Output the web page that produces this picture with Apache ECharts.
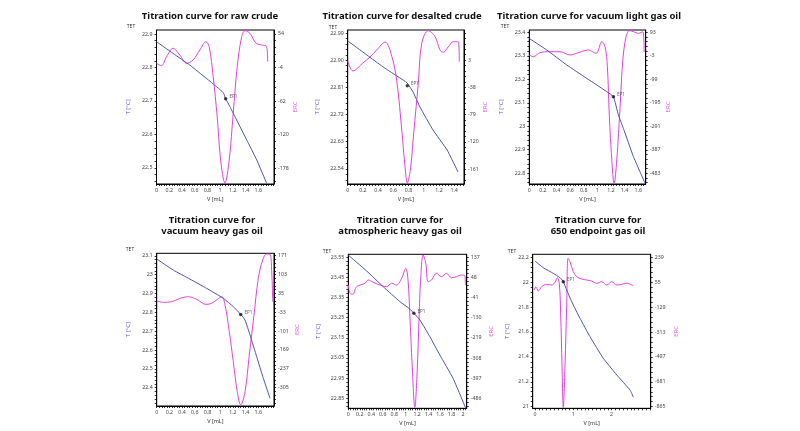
<!DOCTYPE html>
<html><head><meta charset="utf-8">
<script src="https://cdn.jsdelivr.net/npm/echarts@6/dist/echarts.min.js"></script>
<style>html,body{margin:0;background:#fff}#c{width:800px;height:431px}</style>
</head><body><div id="c"></div><script>
// ---------- DATA ----------
const titles = [
  'Titration curve for raw crude',
  'Titration curve for desalted crude',
  'Titration curve for vacuum light gas oil',
  'Titration curve for\nvacuum heavy gas oil',
  'Titration curve for\natmospheric heavy gas oil',
  'Titration curve for\n650 endpoint gas oil'
];
// volume tick labels [mL]
const volLabels1 = [0,0.2,0.4,0.6,0.8,1,1.2,1.4,1.6];
const volLabels2 = [0,0.2,0.4,0.6,0.8,1,1.2,1.4];
const volLabels3 = [0,0.2,0.4,0.6,0.8,1,1.2,1.4,1.6];
const volLabels4 = [0,0.2,0.4,0.6,0.8,1,1.2,1.4,1.6];
const volLabels5 = [0,0.2,0.4,0.6,0.8,1,1.2,1.4,1.6,1.8,2];
const volLabels6 = [0,1,2];
// temperature tick labels [°C]
const tempLabels1 = [22.5,22.6,22.7,22.8,22.9];
const tempLabels2 = [22.54,22.63,22.72,22.81,22.90,22.99];
const tempLabels3 = [22.8,22.9,23,23.1,23.2,23.3,23.4];
const tempLabels4 = [22.4,22.5,22.6,22.7,22.8,22.9,23,23.1];
const tempLabels5 = [22.85,22.95,23.05,23.15,23.25,23.35,23.45,23.55];
const tempLabels6 = [21,21.2,21.4,21.6,21.8,22,22.2];
// ERC tick labels
const ercLabels1 = [-178,-120,-62,-4,54];
const ercLabels2 = [-161,-120,-79,-38,3];
const ercLabels3 = [-483,-387,-291,-195,-99,-3,93];
const ercLabels4 = [-305,-237,-169,-101,-33,35,103,171];
const ercLabels5 = [-486,-397,-308,-219,-130,-41,48,137];
const ercLabels6 = [-865,-681,-497,-313,-129,55,239];

// temperature curves [V, T]
const rawCrudeTemp = [[0,22.877],[0.261,22.842],[0.524,22.807],[0.781,22.768],[0.954,22.741],[1.049,22.725],[1.087,22.707],[1.154,22.683],[1.26,22.643],[1.417,22.584],[1.575,22.524],[1.732,22.454]];
const desaltedTemp = [[0,22.964],[0.254,22.917],[0.464,22.878],[0.688,22.841],[0.78,22.825],[0.859,22.795],[0.951,22.745],[1.122,22.669],[1.307,22.603],[1.451,22.53]];
const vlgoTemp = [[0,23.374],[0.256,23.325],[0.55,23.261],[0.844,23.204],[0.991,23.176],[1.138,23.147],[1.235,23.126],[1.309,23.048],[1.382,22.991],[1.529,22.871],[1.701,22.757]];
const vhgoTemp = [[0,23.083],[0.261,23.024],[0.524,22.976],[0.787,22.927],[1.05,22.874],[1.206,22.83],[1.323,22.789],[1.391,22.759],[1.469,22.68],[1.575,22.564],[1.679,22.45],[1.784,22.344]];
const ahgoTemp = [[0,23.561],[0.32,23.482],[0.609,23.404],[0.899,23.33],[1.073,23.293],[1.247,23.239],[1.421,23.156],[1.595,23.065],[1.826,22.949],[2.047,22.8]];
const epgoTemp = [[0,22.17],[0.217,22.116],[0.478,22.071],[0.653,22.036],[0.739,22.004],[0.828,21.937],[0.958,21.843],[1.175,21.71],[1.436,21.562],[1.783,21.389],[2.133,21.255],[2.48,21.134],[2.567,21.078]];

// ERC curves [V, ERC]
const rawCrudeErc = [[0,3.3],[0.079,-0.9],[0.157,14.7],[0.261,29.2],[0.367,17.6],[0.472,3.3],[0.576,9],[0.682,26.3],[0.776,40.7],[0.828,32],[0.891,-19.9],[0.954,-89.2],[1.008,-164.1],[1.076,-204],[1.143,-164],[1.206,-83.3],[1.269,-2.6],[1.339,49.3],[1.391,59.7],[1.469,55.2],[1.564,37.9],[1.654,35],[1.732,32],[1.748,6]];
const desaltedErc = [[0,1.8],[0.07,-13.3],[0.2,-1.2],[0.293,7.8],[0.382,18.4],[0.491,30.4],[0.583,7.8],[0.649,-31.4],[0.711,-102.2],[0.754,-157.5],[0.784,-182],[0.829,-157.5],[0.872,-102.2],[0.929,-31.8],[0.974,28.5],[1.061,47.5],[1.149,38.4],[1.214,18.4],[1.258,14.9],[1.324,23.3],[1.389,30.9],[1.455,30.9],[1.468,0.7]];
const vlgoErc = [[0,0.3],[0.059,-6.7],[0.157,9.7],[0.304,13.7],[0.451,13.7],[0.599,0.3],[0.721,9.7],[0.868,20.7],[0.981,7.2],[1.065,54.6],[1.113,34.2],[1.147,-47.5],[1.176,-251.8],[1.212,-428.7],[1.246,-524],[1.285,-428.7],[1.334,-210.9],[1.374,-20.2],[1.422,75],[1.471,100],[1.529,95.5],[1.603,88.9],[1.668,95.5],[1.687,12.5]];
const vhgoErc = [[0,7.6],[0.105,3],[0.236,5.1],[0.367,17.2],[0.498,23],[0.63,13.6],[0.776,-4.4],[0.866,-0.8],[0.954,13.6],[1.024,23],[1.076,-6.8],[1.143,-103],[1.206,-211.2],[1.269,-319.4],[1.323,-367],[1.391,-319.4],[1.458,-187.1],[1.532,-42.8],[1.6,89.5],[1.669,155.5],[1.732,177],[1.784,176],[1.811,113.3],[1.827,5.1]];
const ahgoErc = [[0,14.6],[0.03,-22.1],[0.077,-26.5],[0.146,7.1],[0.29,22.1],[0.348,36.7],[0.435,26.5],[0.551,14.6],[0.668,7.1],[0.755,22.1],[0.842,14.6],[0.929,44.2],[1.003,88.4],[1.043,29.2],[1.073,-118],[1.113,-338.9],[1.16,-526],[1.2,-368.5],[1.235,-118],[1.259,29.2],[1.304,147],[1.351,110.5],[1.391,29.2],[1.45,36.7],[1.537,66.3],[1.624,51.3],[1.711,66.3],[1.798,46.9],[1.885,51.3],[1.972,58.8],[2.03,55.7],[2.042,14.6]];
const epgoErc = [[-0.026,-2.7],[0.026,21.7],[0.086,-10],[0.175,21.7],[0.305,39.5],[0.436,34.3],[0.522,54.2],[0.582,88.2],[0.634,46.9],[0.671,-187.4],[0.705,-556.9],[0.739,-870],[0.783,-556.9],[0.828,-113.5],[0.862,232],[0.914,206.5],[1.0,132.6],[1.089,95.6],[1.219,78.6],[1.35,71.2],[1.48,63.9],[1.611,46.9],[1.742,58.7],[1.872,34.3],[2.003,58.7],[2.133,34.3],[2.264,39.5],[2.394,46.9],[2.567,29.1]];

// endpoints EP1 [V, T]
const endpoints = [[1.087,22.707],[0.784,22.815],[1.235,23.126],[1.323,22.789],[1.143,23.272],[0.739,22.004]];

// ---------- LAYOUT ----------
const BLUE = '#4f52b4', PINK = '#e142de';
const layout = [
  {grid:{left:156.5,top:30,width:117.5,height:154}, x:[0,1.847], t:[22.452,22.912], e:[-205.7,60.9], xs:0.04, ts:0.02, es:11.6, tg:25, eg:17, tet:[131,27], title:[210,16], tDec:null},
  {grid:{left:347.7,top:30,width:116.3,height:154}, x:[0,1.53], t:[22.49,23.0], e:[-183.6,48.5], xs:0.04, ts:0.018, es:8.2, tg:27, eg:18, tet:[333,28], title:[402,16], tDec:2},
  {grid:{left:529.3,top:30,width:116.4,height:154}, x:[0,1.71], t:[22.754,23.41], e:[-526.7,102.4], xs:0.04, ts:0.02, es:19.2, tg:25, eg:20, tet:[505,27], title:[589,16], tDec:null},
  {grid:{left:156.7,top:253.3,width:117.3,height:152.7}, x:[0,1.847], t:[22.303,23.113], e:[-371,179.7], xs:0.04, ts:0.02, es:13.6, tg:25, eg:20, tet:[130,250], title:[212,226], tDec:null},
  {grid:{left:348.3,top:254.3,width:118.4,height:154}, x:[0,2.064], t:[22.8,23.565], e:[-530.3,150.3], xs:0.04, ts:0.02, es:17.8, tg:27, eg:22, tet:[327,252], title:[400,226], tDec:2},
  {grid:{left:532.7,top:254.3,width:118,height:154}, x:[-0.06,3.02], t:[20.987,22.224], e:[-876.9,261.2], xs:0.1, ts:0.04, es:36.8, tg:22, eg:23, tet:[512,252], title:[598,226], tDec:null}
];
const volLabels = [volLabels1,volLabels2,volLabels3,volLabels4,volLabels5,volLabels6];
const tempLabels = [tempLabels1,tempLabels2,tempLabels3,tempLabels4,tempLabels5,tempLabels6];
const ercLabels = [ercLabels1,ercLabels2,ercLabels3,ercLabels4,ercLabels5,ercLabels6];
const temps = [rawCrudeTemp,desaltedTemp,vlgoTemp,vhgoTemp,ahgoTemp,epgoTemp];
const ercs = [rawCrudeErc,desaltedErc,vlgoErc,vhgoErc,ahgoErc,epgoErc];

function mkTicks(anchor, step, lo, hi){
  const out=[]; let v = anchor - Math.floor((anchor-lo)/step + 1e-9)*step;
  for(; v<=hi+1e-9; v+=step) out.push(+v.toFixed(6));
  return out;
}

const FONT = 'Noto Sans, Open Sans, sans-serif';
const grids=[], xAxes=[], yAxes=[], series=[], graphic=[];
layout.forEach((L,i)=>{
  grids.push(Object.assign({show:true, borderColor:'#000', borderWidth:1, containLabel:false}, L.grid));
  const lblStyle = {fontSize:5.3, color:'#444', fontFamily:FONT};
  xAxes.push({gridIndex:i, type:'value', min:L.x[0], max:L.x[1],
    name:'V [mL]', nameLocation:'middle', nameGap:12, nameTextStyle:{fontSize:5.5,color:'#333',fontFamily:FONT},
    axisLine:{show:true,onZero:false,lineStyle:{color:'#000',width:1}},
    axisTick:{show:true, customValues:mkTicks(0,L.xs,L.x[0],L.x[1]), length:2, lineStyle:{color:'#000',width:0.8}},
    axisLabel:Object.assign({customValues:volLabels[i], margin:4, formatter:v=>String(v)}, lblStyle),
    splitLine:{show:false}});
  const tl = tempLabels[i];
  yAxes.push({gridIndex:i, type:'value', position:'left', min:L.t[0], max:L.t[1],
    name:'T [°C]', nameLocation:'middle', nameGap:L.tg, nameRotate:90,
    nameTextStyle:{fontSize:6,color:'#5a5ad6',fontFamily:FONT},
    axisLine:{show:true,onZero:false,lineStyle:{color:'#000',width:1}},
    axisTick:{show:true, customValues:mkTicks(tl[0],L.ts,L.t[0],L.t[1]), length:2, lineStyle:{color:'#000',width:0.8}},
    axisLabel:Object.assign({customValues:tl, margin:4, formatter:v=> L.tDec? v.toFixed(L.tDec): String(v)}, lblStyle),
    splitLine:{show:false}});
  const el = ercLabels[i];
  yAxes.push({gridIndex:i, type:'value', position:'right', min:L.e[0], max:L.e[1],
    name:'ERC', nameLocation:'middle', nameGap:L.eg, nameRotate:90,
    nameTextStyle:{fontSize:6,color:'#e060dc',fontFamily:FONT},
    axisLine:{show:true,onZero:false,lineStyle:{color:'#000',width:1}},
    axisTick:{show:true, customValues:mkTicks(el[0],L.es,L.e[0],L.e[1]), length:2, lineStyle:{color:'#000',width:0.8}},
    axisLabel:Object.assign({customValues:el, margin:4, formatter:v=>String(v)}, lblStyle),
    splitLine:{show:false}});
  series.push({type:'line', xAxisIndex:i, yAxisIndex:2*i+1, data:ercs[i], smooth:0.35, symbol:'none',
    lineStyle:{color:PINK,width:1}, z:2});
  series.push({type:'line', xAxisIndex:i, yAxisIndex:2*i, data:temps[i], smooth:0.15, symbol:'none',
    lineStyle:{color:BLUE,width:1}, z:3});
  series.push({type:'scatter', xAxisIndex:i, yAxisIndex:2*i, data:[endpoints[i]], symbolSize:3.5,
    itemStyle:{color:'#111'}, label:{show:true, formatter:'EP1', position:'right', distance:2, offset:[0,-2], fontSize:4.5, color:'#333', fontFamily:FONT}, z:4});
  graphic.push({type:'text', x:L.title[0], y:L.title[1], style:{text:titles[i], font:'bold 9.5px '+FONT, fill:'#111', align:'center', verticalAlign:'middle', lineHeight:11}});
  graphic.push({type:'text', x:L.tet[0], y:L.tet[1], style:{text:'TET', font:'5px '+FONT, fill:'#333', align:'center', verticalAlign:'middle'}});
});

const chart = echarts.init(document.getElementById('c'), null, {renderer:'canvas'});
chart.setOption({animation:false, backgroundColor:'#fff', grid:grids, xAxis:xAxes, yAxis:yAxes, series, graphic});
</script></body></html>
